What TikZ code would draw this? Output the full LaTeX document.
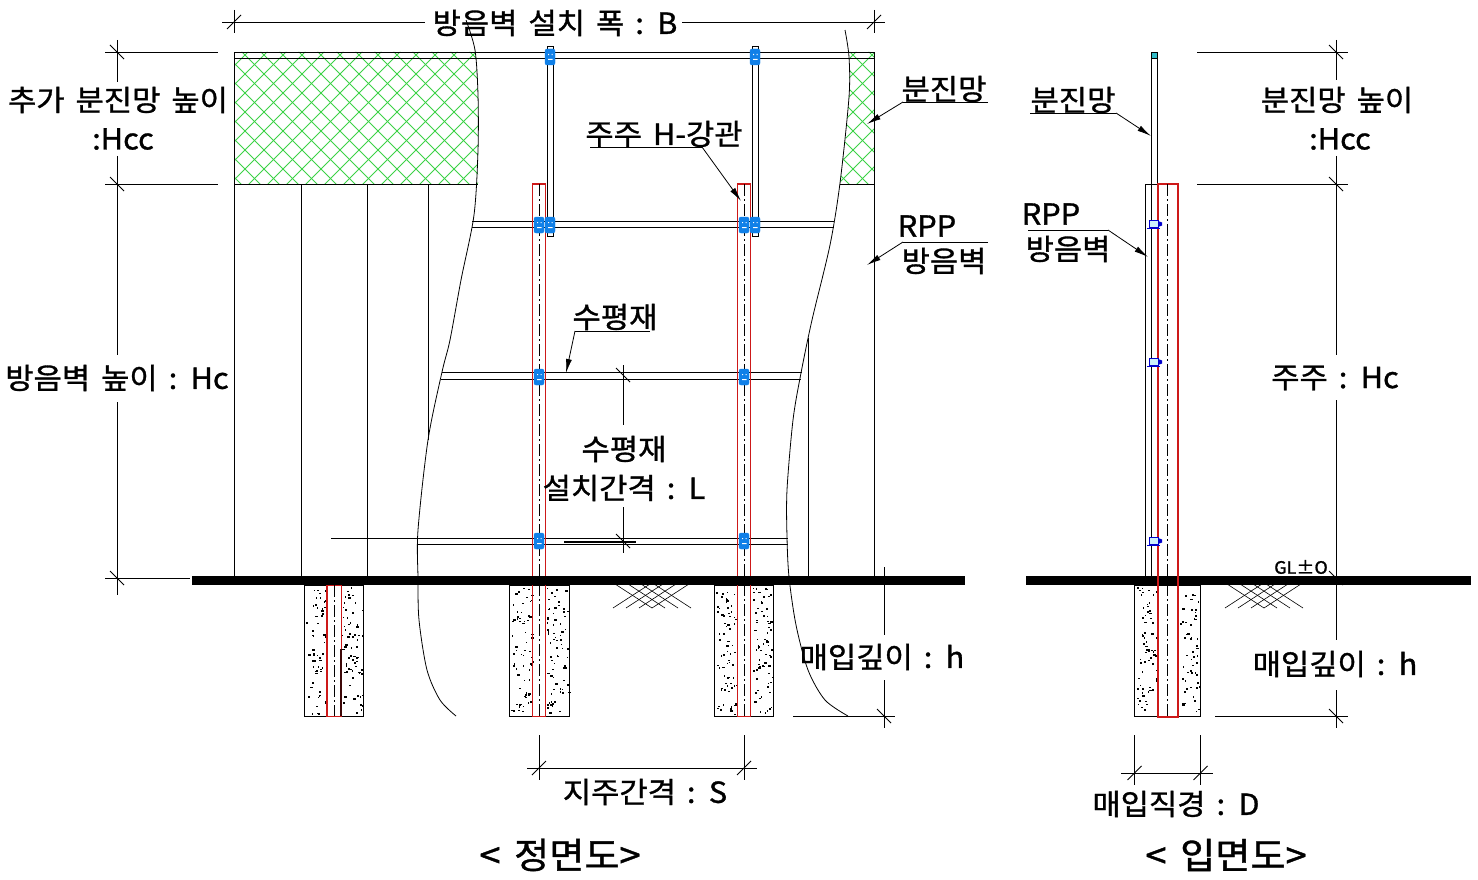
\documentclass[tikz,border=0pt]{standalone}
\usepackage{fontspec}
\usetikzlibrary{arrows.meta}
\newfontfamily\kr[FakeStretch=1.06,FakeBold=1.1,WordSpace=1.6]{Noto Sans CJK KR}
\definecolor{boltblue}{RGB}{16,128,232}
\definecolor{netgreen}{RGB}{60,210,70}
\definecolor{postred}{RGB}{205,25,25}
\tikzset{
 txt/.style={font=\kr\fontsize{29}{34}\selectfont,inner sep=0pt,text=black,yshift=-1pt},
 wall/.style={black,line width=0.9pt},
 thin line/.style={black,line width=0.8pt},
 dim/.style={black,line width=0.8pt},
 leader/.style={black,line width=0.8pt,-{Latex[length=14pt,width=6pt]}},
 post/.style={postred,line width=1.1pt},
 postb/.style={postred,line width=2pt},
 centre/.style={black,line width=0.9pt,dash pattern=on 12pt off 3pt on 2pt off 3pt},
 bolt/.style={fill=boltblue,draw=boltblue,rounded corners=2pt,minimum width=10pt,minimum height=16pt,inner sep=0pt},
 boltside/.style={fill=cyan!20,draw=blue!80!black,line width=1.5pt,minimum width=9pt,minimum height=7pt,inner sep=0pt},
 hatchg/.style={netgreen,line width=0.8pt},
 earth/.style={black,line width=0.6pt}
}
\newcommand{\tickF}[2]{\draw[dim] (#1-7,#2+7) -- (#1+7,#2-7);}
\newcommand{\tickB}[2]{\draw[dim] (#1-7,#2-7) -- (#1+7,#2+7);}
\newcommand{\earthhatch}[1]{%
 \begin{scope}[shift={(#1,585)}]
 \foreach \d in {0,13,26,39}{
  \draw[earth] (\d,23) -- (\d+37,-1);
  \draw[earth] (78-\d,23) -- (41-\d,-1);
 }
 \end{scope}}
\newcommand{\stipple}[5]{% x0 x1 gap0 gap1 count
 \foreach \i in {1,...,#5}{
  \pgfmathsetmacro{\px}{#1+1+rnd*(#2-#1-2)}
  \pgfmathsetmacro{\py}{587+rnd*127}
  \pgfmathsetmacro{\pw}{0.8+rnd*1.8}
  \pgfmathparse{(\px>#3 && \px<#4)?0:1}
  \ifnum\pgfmathresult>0 \fill[black] (\px,\py) rectangle ++(\pw,1.6);\fi
 }}
\begin{document}
\begin{tikzpicture}[x=1pt,y=-1pt]
\useasboundingbox (0,0) rectangle (1478,880);
\fill[white] (0,0) rectangle (1478,880);
\pgfmathsetseed{4217}
% ---- green net, front view
\begin{scope}
 \clip (234,52) -- (476,52) -- (478,95) -- (478,184) -- (234,184) -- cycle;
 \foreach \k in {0,19,...,1000}{
  \draw[hatchg] (\k,300) -- (\k+300,0);
  \draw[hatchg] (\k,0) -- (\k+300,300);
 }
\end{scope}
\begin{scope}
 \clip (849,52) -- (874,52) -- (874,184) -- (840,184) -- (846,135) -- (849,97) -- cycle;
 \foreach \k in {532,551,...,1000}{
  \draw[hatchg] (\k,300) -- (\k+300,0);
  \draw[hatchg] (\k,0) -- (\k+300,300);
 }
\end{scope}
% ---- wall outline
\draw[wall] (234,578) -- (234,52) -- (874,52) -- (874,578);
\draw[wall] (234,58) -- (874,58);
\draw[wall] (234,184) -- (478,184);
\draw[wall] (840,184) -- (874,184);
\foreach \x in {301,367}{\draw[wall] (\x,184) -- (\x,578);}
\draw[wall] (428,184) -- (428,440);
\draw[wall] (808,338) -- (808,578);
% ---- break lines
\draw[thin line] plot[smooth] coordinates {(466,20) (475,50) (478,95) (478,150) (474,215) (461,280) (450,340) (442,372) (428,440) (418,530) (418,578) (419,620) (427,670) (440,700) (456,716)};
\draw[thin line] plot[smooth] coordinates {(845,30) (849,57) (849,97) (840,183) (830,245) (812,320) (801,373) (793,420) (787,490) (787,537) (789,577) (796,625) (808,670) (825,700) (848,716)};
% ---- rails
\draw[wall] (472,221) -- (834,221) (472,227.5) -- (834,227.5);
\draw[wall] (442,372) -- (802,372) (441,379) -- (801,379);
\draw[wall] (418,538) -- (788,538) (418,544) -- (788,544);
\draw[wall] (331,538) -- (418,538);
\draw[black,line width=0.6pt] (564,540.8) -- (636,540.8) (564,542.6) -- (636,542.6);
% ---- upper net posts
\foreach \x in {547.3,752.3}{\draw[wall,fill=white] (\x,46) rectangle (\x+6.2,236.5);}
\draw[wall] (547,52) -- (553,52) (547,58) -- (553,58) (752,52) -- (758,52) (752,58) -- (758,58);
% ---- foundations
\foreach \x/\w in {304.5/59,509.5/60,714.5/59}{\draw[wall] (\x,585) rectangle (\x+\w,716.5);}
\stipple{305}{363}{326}{342}{190}
\stipple{510}{570}{532}{546}{190}
\stipple{715}{773}{737}{751}{190}
% ---- H posts
\foreach \c in {539,744}{
 \draw[post] (\c-6.7,184) rectangle (\c+6.7,716.5);
 \draw[centre] (\c,184) -- (\c,716);
}
\draw[post] (327,585) rectangle (341.5,716.5);
\draw[centre] (334,585) -- (334,716);
\draw[black!70!postred,line width=1.3pt] (341,649) -- (341,716);
% ---- bolts
\foreach \n/\x/\y in {a/550/57,b/755/57,c/539/225,d/550/225,e/744/225,f/755/225,g/539/377,h/744/377,i/539/541,j/744/541}{
 \node[bolt] (bolt\n) at (\x,\y) {};
 \fill[white] (\x-2,\y-3) rectangle ++(1.2,1.2) (\x+1.5,\y-3) rectangle ++(1.2,1.2) (\x-2,\y+2) rectangle ++(4.5,1);
}
% ---- ground
\fill[black] (192,576) rectangle (965,585);
\fill[black] (1026,576) rectangle (1471,585);
\earthhatch{613}
\earthhatch{1225}
% ---- side view
\draw[wall] (1145.5,578) -- (1145.5,184) -- (1177,184);
\draw[wall] (1151.5,55) -- (1151.5,578) (1157,55) -- (1157,184);
\node[fill=cyan!70!green!80,draw=black,line width=0.5pt,minimum size=6pt,inner sep=0pt] (cap) at (1154,55) {};
\draw[wall] (1134.5,585) rectangle (1200.5,716.5);
\stipple{1135}{1200}{1156}{1180}{190}
\draw[postb] (1158,184) rectangle (1178,716.5);
\draw[centre] (1167,184) -- (1167,716);
\foreach \n/\y in {a/224,b/362,c/541}{
 \node[boltside] (side\n) at (1154,\y) {};
 \fill[blue!80!black] (1158,\y-3) -- (1162,\y-1.5) -- (1162,\y+1.5) -- (1158,\y+3) -- cycle;
 \draw[blue!80!black,line width=1pt] (1147,\y+4) -- (1160,\y+4);
}
% ---- dimensions, front
\draw[dim] (222,22) -- (425,22) (682,22) -- (885,22);
\draw[dim] (234,10) -- (234,33) (874,10) -- (874,33);
\tickF{234}{22}\tickF{874}{22}
\draw[dim] (105,52) -- (218,52) (105,184) -- (218,184) (105,578) -- (190,578);
\draw[dim] (117,40) -- (117,82) (117,156) -- (117,355) (117,402) -- (117,595);
\tickB{117}{52}\tickB{117}{184}\tickB{117}{578}
\draw[dim] (623,365) -- (623,425) (623,507) -- (623,553);
\tickB{623}{375}\tickB{623}{541}
\draw[dim] (884,567) -- (884,635) (884,680) -- (884,728);
\draw[dim] (793,716) -- (895,716);
\tickB{884}{716}
\draw[dim] (539,735) -- (539,780) (744,735) -- (744,780) (527,768) -- (757,768);
\tickF{539}{768}\tickF{744}{768}
% ---- dimensions, side
\draw[dim] (1197,52) -- (1348,52) (1197,184) -- (1348,184) (1215,716) -- (1348,716);
\draw[dim] (1336,40) -- (1336,80) (1336,156) -- (1336,355) (1336,400) -- (1336,640) (1336,690) -- (1336,728);
\tickB{1336}{52}\tickB{1336}{184}\tickB{1336}{578}\tickB{1336}{716}
\draw[dim] (1134.5,735) -- (1134.5,785) (1200.5,735) -- (1200.5,785) (1121,773) -- (1213,773);
\tickF{1134.5}{773}\tickF{1200.5}{773}
% ---- labels
\node[txt] (tB) at (555,22) {방음벽 설치 폭 : B};
\node[txt] (tHcc1) at (118,99) {추가 분진망 높이};
\node[txt] (tHcc2) at (123,138) {:Hcc};
\node[txt] (tHc) at (117,377) {방음벽 높이 : Hc};
\node[txt] (tNet) at (944,88) {분진망};
\node[txt] (tRpp) at (927,225) {RPP};
\node[txt] (tWall) at (944,260) {방음벽};
\node[txt] (tPost) at (664,133) {주주 H-강관};
\node[txt] (tRail) at (615,316) {수평재};
\node[txt] (tL1) at (624,448) {수평재};
\node[txt] (tL2) at (624,487) {설치간격 : L};
\node[txt] (th1) at (882,656) {매입깊이 : h};
\node[txt] (tS) at (645,791) {지주간격 : S};
\node[txt,font=\kr\fontsize{36}{40}\selectfont] (tFront) at (560,854) {< 정면도>};
\node[txt] (tNet2) at (1073,99) {분진망};
\node[txt] (tRpp2) at (1051,213) {RPP};
\node[txt] (tWall2) at (1068,248) {방음벽};
\node[txt] (tHcc3) at (1337,99) {분진망 높이};
\node[txt] (tHcc4) at (1340,138) {:Hcc};
\node[txt] (tHc2) at (1335,377) {주주 : Hc};
\node[txt] (th2) at (1335,663) {매입깊이 : h};
\node[txt,font=\kr\fontsize{17}{20}\selectfont] (tGL) at (1301,566) {GL±O};
\node[txt] (tD) at (1176,803) {매입직경 : D};
\node[txt,font=\kr\fontsize{36}{40}\selectfont] (tSide) at (1226,854) {< 입면도>};
% ---- leaders
\coordinate (u1a) at (988,102); \coordinate (u1b) at (903,102); \coordinate (e1) at (867,124);
\draw[dim] (u1a) -- (u1b); \draw[leader] (u1b) -- (e1);
\coordinate (u2a) at (988,242); \coordinate (u2b) at (903,242); \coordinate (e2) at (867,265);
\draw[dim] (u2a) -- (u2b); \draw[leader] (u2b) -- (e2);
\coordinate (u3a) at (590,147); \coordinate (u3b) at (702,147); \coordinate (e3) at (741,201);
\draw[dim] (u3a) -- (u3b); \draw[leader] (u3b) -- (e3);
\coordinate (u4a) at (650,331); \coordinate (u4b) at (575,331); \coordinate (e4) at (566,373);
\draw[dim] (u4a) -- (u4b); \draw[leader] (u4b) -- (e4);
\coordinate (u5a) at (1030,113); \coordinate (u5b) at (1116,113); \coordinate (e5) at (1151,136);
\draw[dim] (u5a) -- (u5b); \draw[leader] (u5b) -- (e5);
\coordinate (u6a) at (1028,230); \coordinate (u6b) at (1108,230); \coordinate (e6) at (1148,257);
\draw[dim] (u6a) -- (u6b); \draw[leader] (u6b) -- (e6);
\end{tikzpicture}
\end{document}
